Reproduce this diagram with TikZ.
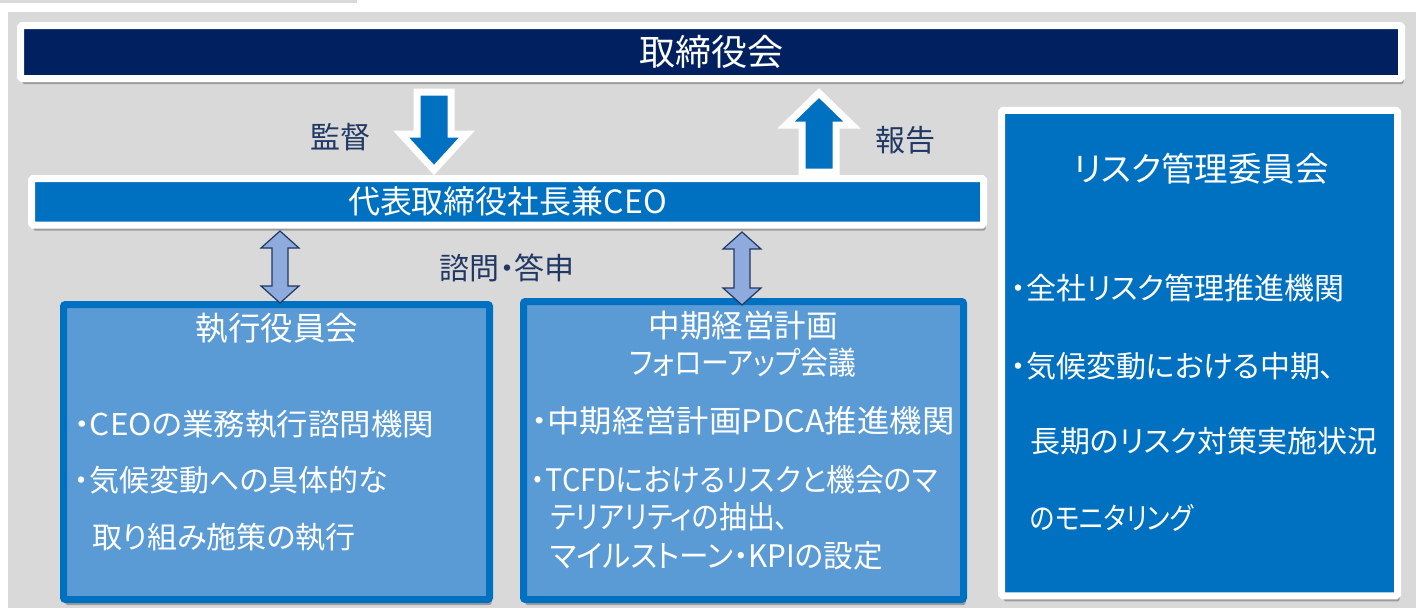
\documentclass[tikz,border=0pt]{standalone}
\usepackage{graphicx}
\usepackage{fontspec}
\setmainfont{Noto Sans CJK JP}[CharacterWidth=AlternateProportional]
\usetikzlibrary{shadows}
\definecolor{bg}{HTML}{D9D9D9}
\definecolor{navy}{HTML}{002060}
\definecolor{mblue}{HTML}{0070C0}
\definecolor{lblue}{HTML}{5B9BD5}
\definecolor{pale}{HTML}{8FAADC}
\definecolor{ink}{HTML}{203864}
\newcommand{\hsc}[2]{\scalebox{#1}[1]{#2}}
\tikzset{
  shad/.style={drop shadow={shadow xshift=2pt, shadow yshift=-5.5pt, opacity=0.28, fill=black}},
  frame/.style={shad, draw=white, line width=7pt, rounded corners=1.5pt, inner sep=0pt},
  box/.style={shad, draw=mblue, fill=lblue, line width=7pt, rounded corners=2pt, inner sep=0pt},
  barrow/.style={fill=mblue, draw=white, line width=7pt, line join=miter},
  darrow/.style={fill=pale, draw=ink, line width=1.2pt, line join=miter},
  wt/.style={text=white, inner sep=0pt},
  lbl/.style={text=ink, inner sep=0pt, font=\fontsize{30}{34}\selectfont},
  ttl/.style={wt, font=\fontsize{31.5}{36}\selectfont},
  bul/.style={wt, anchor=west, font=\fontsize{30}{34}\selectfont},
  mbul/.style={wt, anchor=west, font=\fontsize{31}{35}\selectfont},
}
\begin{document}
\begin{tikzpicture}[x=1pt,y=-1pt]
\useasboundingbox (0,0) rectangle (1416,608);
\fill[white] (0,0) rectangle (1416,608);
\fill[bg] (0,0) rectangle (357,3);
\fill[bg] (8,12) rectangle (1416,608);

% top board
\node[frame, fill=navy, minimum width=1381pt, minimum height=53pt, wt, font=\fontsize{36}{40}\selectfont] (board) at (711,52) {取締役会};

% block arrows
\draw[barrow] (417,92) -- (451,92) -- (451,134) -- (467,134) -- (434,170) -- (401,134) -- (417,134) -- cycle;
\draw[barrow] (802,172) -- (836,172) -- (836,125) -- (852,125) -- (819,93) -- (786,125) -- (802,125) -- cycle;

% CEO bar
\node[frame, fill=mblue, minimum width=952pt, minimum height=46.5pt, wt, font=\fontsize{32}{36}\selectfont] (ceo) at (507.5,201.75) {代表取締役社長兼CEO};

% labels
\node[lbl] (kantoku) at (340,137) {監督};
\node[lbl] (houkoku) at (905,140) {報告};
\node[lbl] (shimon) at (507,268) {諮問・答申};

% risk committee
\node[frame, fill=mblue, minimum width=396pt, minimum height=485.5pt] (risk) at (1199.5,353) {};
\node[ttl, font=\fontsize{33.5}{38}\selectfont] (riskt) at (1201,169) {リスク管理委員会};
\node[bul] (r1) at (1011,288) {・全社リスク管理推進機関};
\node[bul] (r2) at (1011,366) {・気候変動における中期、};
\node[bul] (r3) at (1030,441) {長期のリスク対策実施状況};
\node[bul] (r4) at (1030,518) {\hsc{0.86}{のモニタリング}};

% executive committee
\node[box, minimum width=426pt, minimum height=295pt] (exec) at (276.5,452) {};
\node[ttl, font=\fontsize{32.5}{37}\selectfont] (exect) at (277,328) {執行役員会};
\node[bul] (e1) at (74,424) {\hsc{1.05}{・CEOの業務執行諮問機関}};
\node[bul] (e2) at (74,480) {・気候変動への具体的な};
\node[bul] (e3) at (92,537) {取り組み施策の執行};

% mid-term plan follow-up
\node[box, minimum width=440pt, minimum height=298pt] (mid) at (743.5,450.5) {};
\node[ttl] (midt1) at (743,326) {中期経営計画};
\node[ttl] (midt2) at (743,363) {\hsc{0.88}{フォローアップ会議}};
\node[mbul] (m1) at (531,421) {\hsc{1.045}{・中期経営計画PDCA推進機関}};
\node[mbul] (m2) at (531,480) {\hsc{0.93}{・TCFDにおけるリスクと機会のマ}};
\node[mbul] (m3) at (550,517) {\hsc{0.9}{テリアリティの抽出、}};
\node[mbul] (m4) at (550,556) {\hsc{0.955}{マイルストーン・KPIの設定}};

% double arrows
\draw[darrow] (280,231) -- (299,248) -- (288,248) -- (288,286) -- (299,286) -- (280,303) -- (261,286) -- (272,286) -- (272,248) -- (261,248) -- cycle;
\draw[darrow] (742,232) -- (761,249) -- (750,249) -- (750,288) -- (761,288) -- (742,305) -- (723,288) -- (734,288) -- (734,249) -- (723,249) -- cycle;
\end{tikzpicture}
\end{document}
